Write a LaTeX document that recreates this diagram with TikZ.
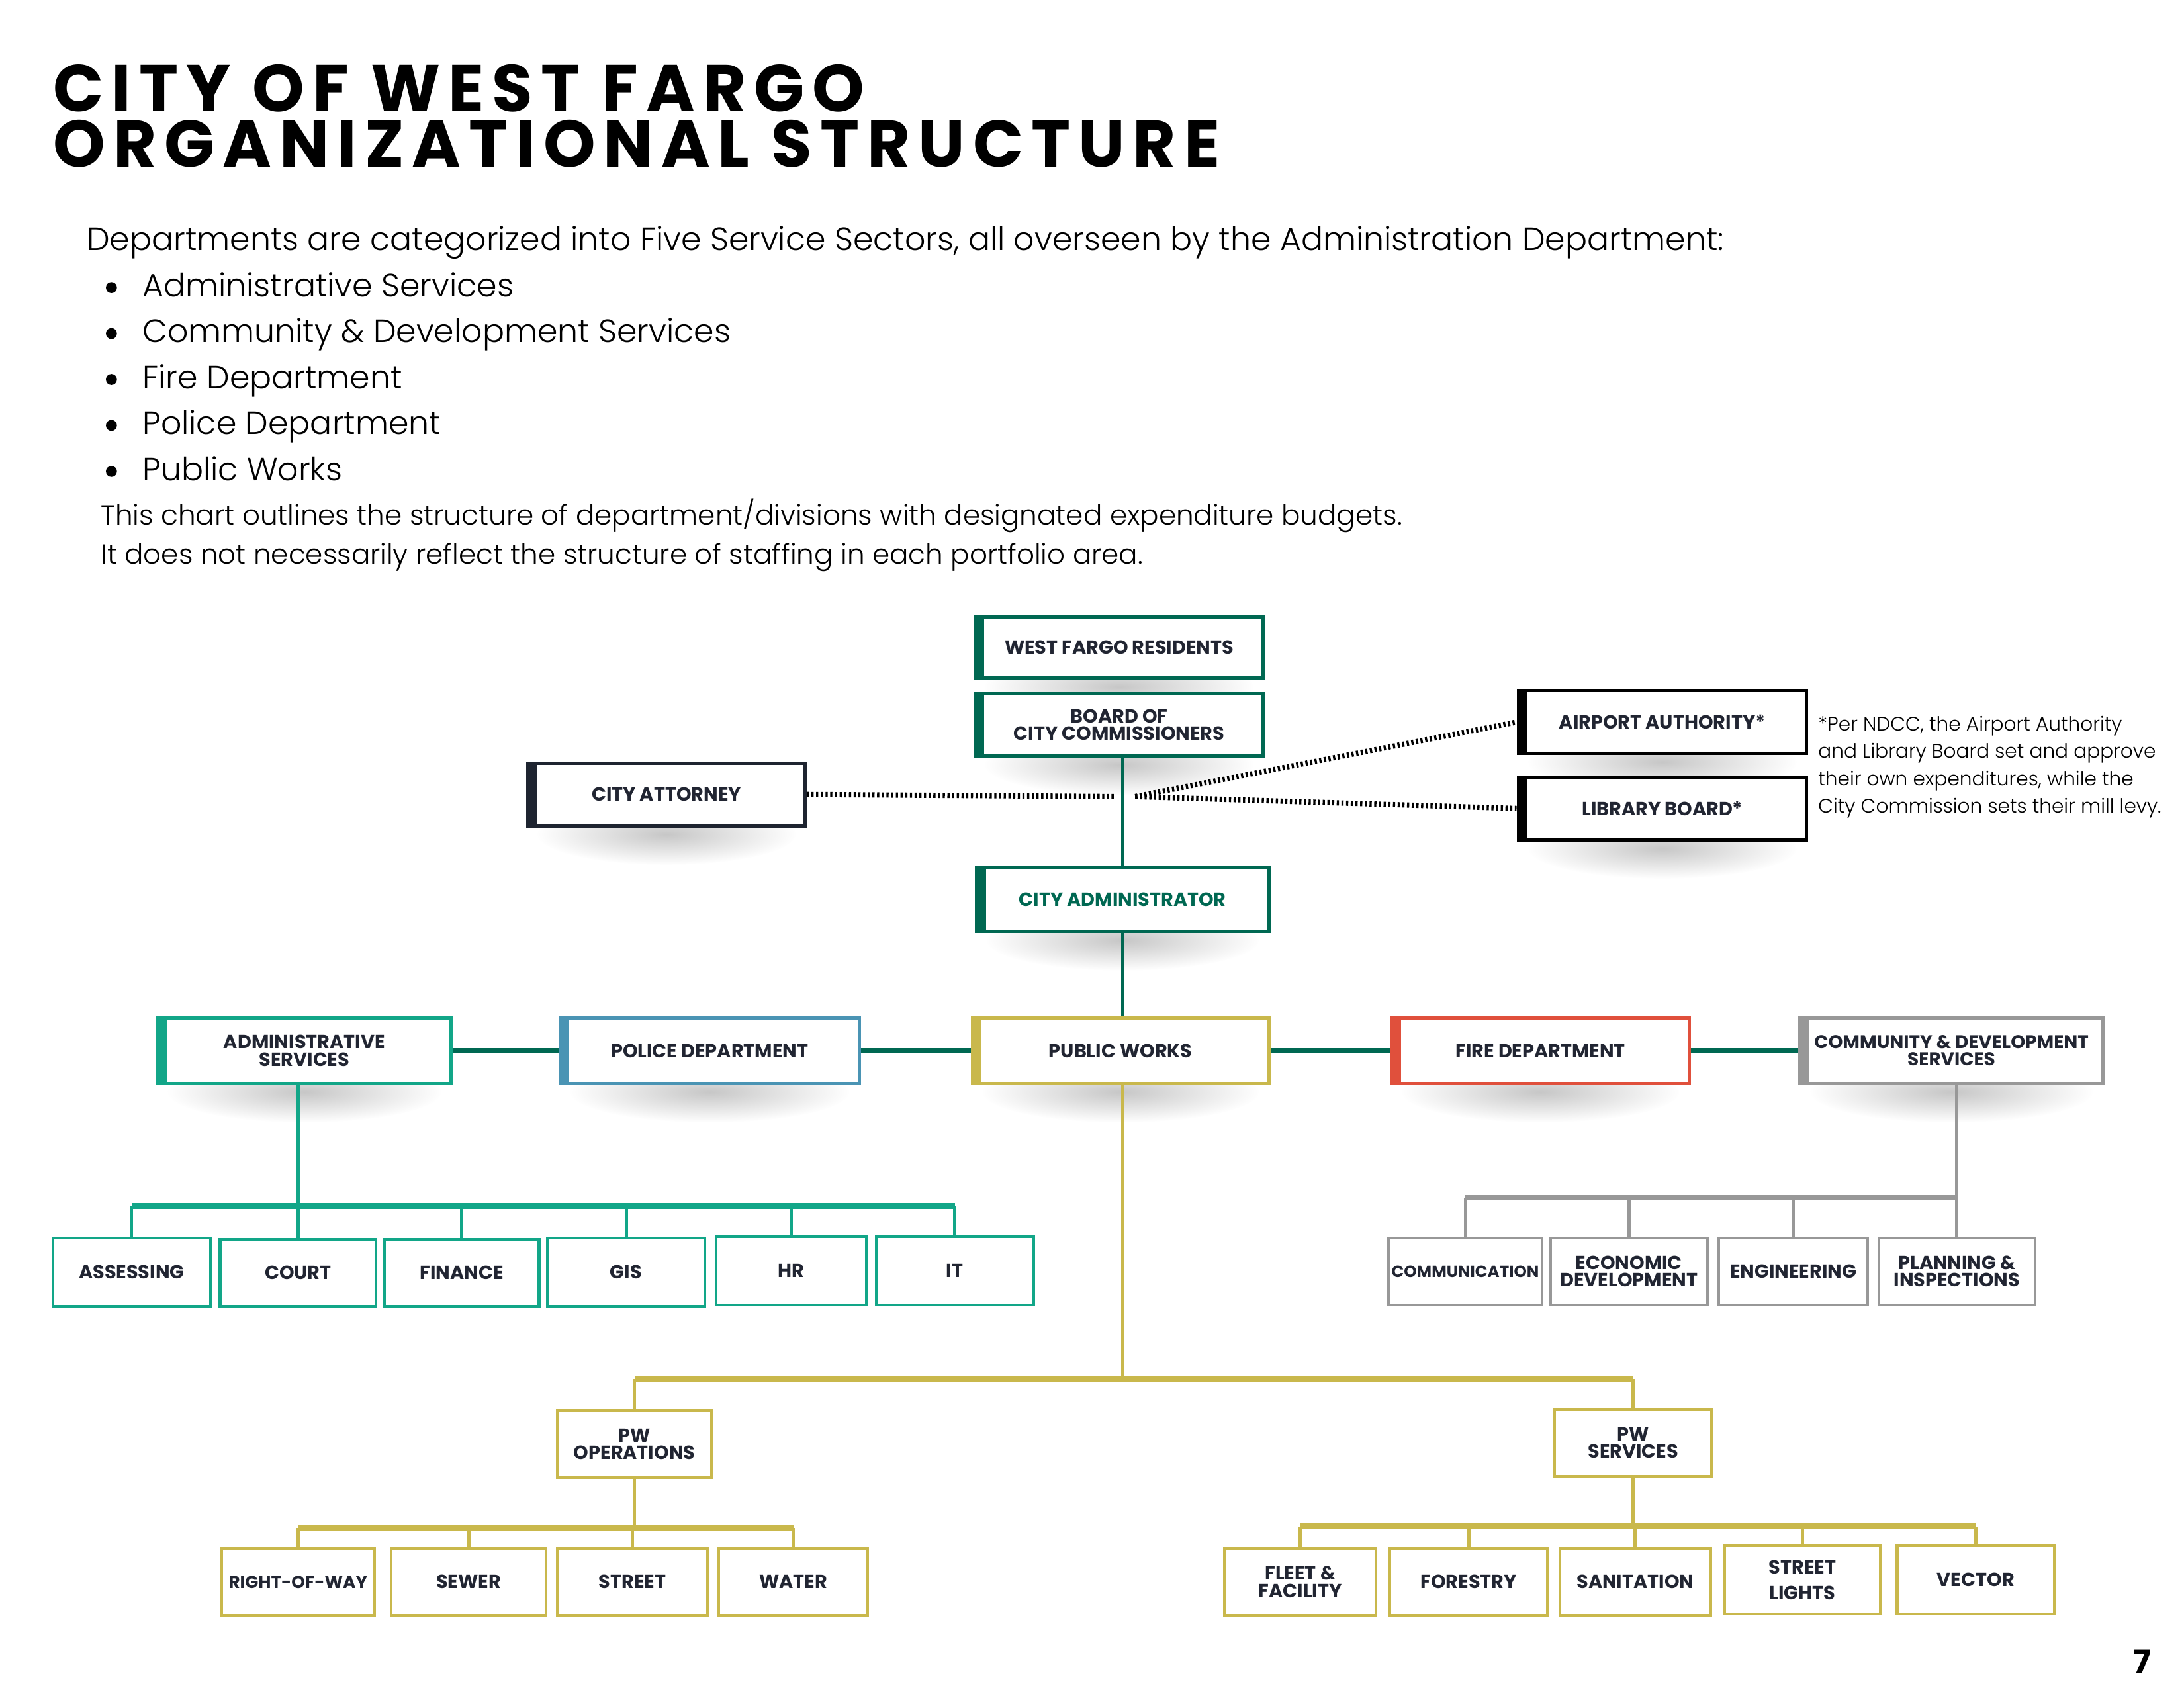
\documentclass[tikz,border=0pt]{standalone}
\usepackage{fontspec}
\setmainfont{Poppins}
\IfFontExistsTF{Poppins Light}{\newfontfamily\lightf{Poppins Light}}{\newfontfamily\lightf{Poppins}}
\newfontfamily\titlef{Poppins}[LetterSpace=12]
\usetikzlibrary{fadings,backgrounds,calc}
\tikzfading[name=shadowfade, inner color=transparent!0, outer color=transparent!100]
\definecolor{wfgreen}{RGB}{0,104,82}
\definecolor{wfteal}{RGB}{18,166,136}
\definecolor{wfblue}{RGB}{74,148,180}
\definecolor{wfgold}{RGB}{201,184,76}
\definecolor{wfred}{RGB}{224,80,60}
\definecolor{wfgray}{RGB}{152,152,152}
\definecolor{wfnavy}{RGB}{30,36,48}
\definecolor{labelc}{RGB}{33,37,50}
\newcommand\mybox[7]{\node[#6, minimum width={(#4-#2)*0.505pt}, minimum height={(#5-#3)*0.505pt}] (#1) at ({(#2+#4)/2},{(#3+#5)/2}) {#7};}
\newcommand\shadowof[1]{\path let \p1=(#1.south west), \p2=(#1.south east) in [fill=black!22, path fading=shadowfade] ($(#1.south)+(0,-2.5pt)$) ellipse ({0.46*(\x2-\x1)} and 11pt);}
\begin{document}
\begin{tikzpicture}[x=0.505pt,y=-0.505pt,
  box/.style={draw=#1, fill=white, line width=1pt, inner sep=0.5pt, align=center, text=labelc,
    font=\bfseries\fontsize{6.9}{6.3}\selectfont},
  bar/.style={path picture={\fill[#1] (path picture bounding box.north west) rectangle ([xshift=3.4pt]path picture bounding box.south west);}},
  topbox/.style={box=#1, bar=#1, line width=1.2pt},
  link/.style={line width=2.1pt, draw=wfgreen},
  vlink/.style={line width=1.3pt, draw=wfgreen},
  dotline/.style={line width=1.9pt, draw=black, dash pattern=on 0.8pt off 0.9pt},
  bus/.style={line width=2pt, draw=#1},
  drop/.style={line width=1.2pt, draw=#1},
  body/.style={anchor=base west, inner sep=0, text=black, font=\lightf\fontsize{11.75}{14}\selectfont},
  bodys/.style={anchor=base west, inner sep=0, text=black, font=\lightf\fontsize{10.1}{12}\selectfont},
  note/.style={anchor=base west, inner sep=0, text=black, font=\lightf\fontsize{7.1}{9}\selectfont},
]
\begin{pgfonlayer}{background}
\fill[white] (0,0) rectangle (1568,1212);
\end{pgfonlayer}
\useasboundingbox (0,0) rectangle (1568,1212);

% title
\node[anchor=base west, inner sep=0, align=left, font=\titlef\bfseries\fontsize{24}{20.2}\selectfont] (title) at (38,120) {CITY OF WEST FARGO\\ORGANIZATIONAL STRUCTURE};

% intro text
\node[body] (p1) at (62,180) {Departments are categorized into Five Service Sectors, all overseen by the Administration Department:};
\foreach \t [count=\i] in {Administrative Services, Community \& Development Services, Fire Department, Police Department, Public Works}{
  \node[body] (b\i) at (102,{180+33*\i}) {\t};
  \fill (80,{180+33*\i-6.5}) circle (2pt);
}
\node[bodys] (p2) at (72,377) {This chart outlines the structure of department/divisions with designated expenditure budgets.};
\node[bodys] (p3) at (72,405) {It does not necessarily reflect the structure of staffing in each portfolio area.};

% top boxes
\mybox{res}{700}{443}{907}{487}{topbox=wfgreen}{WEST FARGO RESIDENTS}
\mybox{board}{700}{498}{907}{543}{topbox=wfgreen}{BOARD OF\\CITY COMMISSIONERS}
\mybox{att}{379}{548}{578}{593}{topbox=wfnavy}{CITY ATTORNEY}
\mybox{air}{1090}{496}{1297}{541}{topbox=black}{AIRPORT AUTHORITY*}
\mybox{lib}{1090}{558}{1297}{603}{topbox=black}{LIBRARY BOARD*}
\mybox{cadm}{701}{623}{911}{669}{topbox=wfgreen, text=wfgreen}{CITY ADMINISTRATOR}

\node[note] (n1) at (1305,525) {*Per NDCC, the Airport Authority};
\node[note] (n2) at (1305,544.5) {and Library Board set and approve};
\node[note] (n3) at (1305,564) {their own expenditures, while the};
\node[note] (n4) at (1305,583.5) {City Commission sets their mill levy.};

% sector boxes
\mybox{adm}{113}{731}{324}{778}{topbox=wfteal}{ADMINISTRATIVE\\SERVICES}
\mybox{pol}{402}{731}{617}{778}{topbox=wfblue}{POLICE DEPARTMENT}
\mybox{pw}{698}{731}{911}{778}{topbox=wfgold}{PUBLIC WORKS}
\mybox{fire}{999}{731}{1213}{778}{topbox=wfred}{FIRE DEPARTMENT}
\mybox{cds}{1292}{731}{1510}{778}{topbox=wfgray, font=\bfseries\fontsize{6.7}{6.3}\selectfont}{COMMUNITY \& DEVELOPMENT\\SERVICES}

% admin children
\mybox{ass}{38}{889}{151}{938}{box=wfteal}{ASSESSING}
\mybox{crt}{158}{890}{270}{938}{box=wfteal}{COURT}
\mybox{fin}{276}{890}{387}{938}{box=wfteal}{FINANCE}
\mybox{gis}{393}{889}{506}{938}{box=wfteal}{GIS}
\mybox{hr}{514}{888}{622}{937}{box=wfteal}{HR}
\mybox{it}{629}{888}{742}{937}{box=wfteal}{IT}

% cds children
\mybox{com}{997}{889}{1107}{937}{box=wfgray, font=\bfseries\fontsize{5.9}{6.3}\selectfont}{COMMUNICATION}
\mybox{eco}{1113}{889}{1226}{937}{box=wfgray}{ECONOMIC\\DEVELOPMENT}
\mybox{eng}{1234}{889}{1341}{937}{box=wfgray}{ENGINEERING}
\mybox{pln}{1349}{889}{1461}{937}{box=wfgray}{PLANNING \&\\INSPECTIONS}

% pw sub
\mybox{pwo}{400}{1013}{511}{1061}{box=wfgold}{PW\\OPERATIONS}
\mybox{pws}{1116}{1012}{1229}{1060}{box=wfgold}{PW\\SERVICES}

\mybox{row}{159}{1112}{269}{1160}{box=wfgold, font=\bfseries\fontsize{6.3}{6.3}\selectfont}{RIGHT-OF-WAY}
\mybox{sew}{281}{1112}{392}{1160}{box=wfgold}{SEWER}
\mybox{str}{400}{1112}{508}{1160}{box=wfgold}{STREET}
\mybox{wat}{516}{1112}{623}{1160}{box=wfgold}{WATER}

\mybox{flt}{879}{1112}{988}{1160}{box=wfgold}{FLEET \&\\FACILITY}
\mybox{for}{998}{1112}{1111}{1160}{box=wfgold}{FORESTRY}
\mybox{san}{1120}{1112}{1228}{1160}{box=wfgold}{SANITATION}
\mybox{stl}{1238}{1110}{1350}{1159}{box=wfgold}{STREET\\[3.2pt]LIGHTS}
\mybox{vec}{1362}{1110}{1475}{1159}{box=wfgold}{VECTOR}

% page number
\node[inner sep=0, font=\bfseries\fontsize{12}{12}\selectfont] (pg) at (1538,1193) {7};

% shadows and main links (behind boxes)
\begin{pgfonlayer}{background}
\foreach \nm in {res,board,att,air,lib,cadm,adm,pol,pw,fire,cds}{\shadowof{\nm}}
\draw[vlink] (cadm.north) -- (cadm.north |- board.south);
\draw[vlink] (cadm.south) -- (cadm.south |- pw.north);
\draw[link] (adm.east) -- (pol.west);
\draw[link] (pol.east) -- (pw.west);
\draw[link] (pw.east) -- (fire.west);
\draw[link] (fire.east) -- (cds.west);
\end{pgfonlayer}
\coordinate (dl) at (800,572);
\coordinate (dr) at (815,572);
\draw[dotline] (att.east) -- (dl);
\draw[dotline] (dr) -- (air.west);
\draw[dotline] (dr) -- (lib.west);

% admin tree
\draw[drop=wfteal] (214,778) -- (214,866);
\draw[bus=wfteal] (ass.north |- 0,866) -- (it.north |- 0,866);
\foreach \nm in {ass,crt,fin,gis,hr,it}{\draw[drop=wfteal] (\nm.north) -- (\nm.north |- 0,866);}

% cds tree
\draw[drop=wfgray] (1405,778) -- (1405,860);
\draw[bus=wfgray] (com.north |- 0,860) -- (1405,860);
\foreach \nm in {com,eco,eng,pln}{\draw[drop=wfgray] (\nm.north) -- (\nm.north |- 0,860);}

% pw tree
\draw[drop=wfgold] (806,778) -- (806,990);
\draw[bus=wfgold] (pwo.north |- 0,990) -- (pws.north |- 0,990);
\foreach \nm in {pwo,pws}{\draw[drop=wfgold] (\nm.north) -- (\nm.north |- 0,990);}
\draw[drop=wfgold] (pwo.south) -- (pwo.south |- 0,1097);
\draw[bus=wfgold] (row.north |- 0,1097) -- (wat.north |- 0,1097);
\foreach \nm in {row,sew,str,wat}{\draw[drop=wfgold] (\nm.north) -- (\nm.north |- 0,1097);}
\draw[drop=wfgold] (pws.south) -- (pws.south |- 0,1096);
\draw[bus=wfgold] (flt.north |- 0,1096) -- (vec.north |- 0,1096);
\foreach \nm in {flt,for,san,stl,vec}{\draw[drop=wfgold] (\nm.north) -- (\nm.north |- 0,1096);}
\end{tikzpicture}
\end{document}
